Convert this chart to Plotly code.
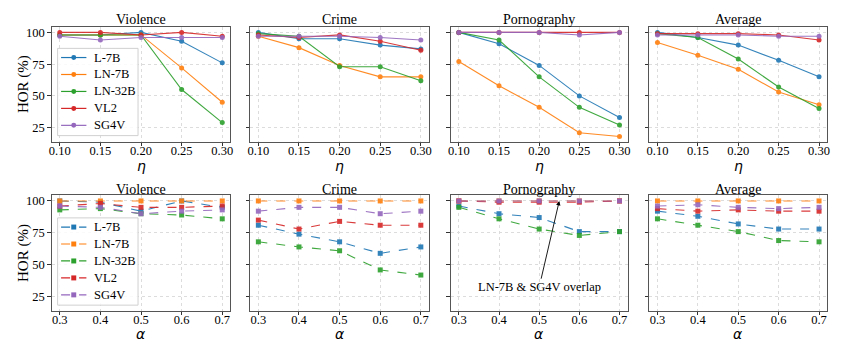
import plotly.graph_objects as go
from plotly.subplots import make_subplots

models = ["L-7B", "LN-7B", "LN-32B", "VL2", "SG4V"]
colors = ["#1f77b4", "#ff7f0e", "#2ca02c", "#d62728", "#9467bd"]
categories = ["Violence", "Crime", "Pornography", "Average"]

eta = [0.10, 0.15, 0.20, 0.25, 0.30]
alpha = [0.3, 0.4, 0.5, 0.6, 0.7]

# HOR (%) vs eta (top row)
eta_violence = {
    "L-7B":   [98, 98, 100, 93, 76],
    "LN-7B":  [98, 98, 98, 72, 45],
    "LN-32B": [98, 98, 98, 55, 29],
    "VL2":    [100, 100, 98, 100, 97],
    "SG4V":   [97, 94, 96, 96, 96],
}
eta_crime = {
    "L-7B":   [100, 95, 95, 90, 87],
    "LN-7B":  [97, 88, 74, 65, 65],
    "LN-32B": [99, 97, 73, 73, 62],
    "VL2":    [98, 96, 98, 93, 86],
    "SG4V":   [97, 97, 97, 96, 94],
}
eta_porn = {
    "L-7B":   [100, 91, 74, 50, 33],
    "LN-7B":  [77, 58, 41, 21, 18],
    "LN-32B": [100, 94, 65, 41, 27],
    "VL2":    [100, 100, 100, 100, 100],
    "SG4V":   [100, 100, 100, 98, 100],
}
eta_average = {
    "L-7B":   [100, 96, 90, 78, 65],
    "LN-7B":  [92, 82, 71, 53, 43],
    "LN-32B": [99, 96, 79, 57, 40],
    "VL2":    [99, 99, 99, 98, 94],
    "SG4V":   [98, 98, 98, 97, 97],
}

# HOR (%) vs alpha (bottom row)
alpha_violence = {
    "L-7B":   [100, 99, 92, 100, 95],
    "LN-7B":  [100, 100, 100, 100, 100],
    "LN-32B": [93, 94, 90, 89, 86],
    "VL2":    [96, 98, 95, 95, 96],
    "SG4V":   [96, 95, 90, 92, 93],
}
alpha_crime = {
    "L-7B":   [81, 74, 68, 59, 64],
    "LN-7B":  [100, 100, 100, 100, 100],
    "LN-32B": [68, 64, 61, 46, 42],
    "VL2":    [85, 78, 84, 81, 81],
    "SG4V":   [92, 95, 95, 90, 92],
}
alpha_porn = {
    "L-7B":   [96, 90, 87, 76, 76],
    "LN-7B":  [100, 100, 100, 100, 100],
    "LN-32B": [95, 86, 78, 73, 76],
    "VL2":    [100, 99, 99, 99, 100],
    "SG4V":   [100, 100, 100, 100, 100],
}
alpha_average = {
    "L-7B":   [92, 88, 82, 78, 78],
    "LN-7B":  [100, 100, 100, 100, 100],
    "LN-32B": [86, 81, 76, 69, 68],
    "VL2":    [94, 92, 93, 92, 92],
    "SG4V":   [96, 97, 95, 94, 95],
}

top_data = [eta_violence, eta_crime, eta_porn, eta_average]
bot_data = [alpha_violence, alpha_crime, alpha_porn, alpha_average]

W, H = 847, 353
serif = "Liberation Serif, Times New Roman, serif"

fig = make_subplots(rows=2, cols=4)

for c in range(4):
    for i, m in enumerate(models):
        fig.add_trace(go.Scatter(
            x=eta, y=top_data[c][m], mode="lines+markers", name=m,
            line=dict(color=colors[i], width=1.1),
            marker=dict(symbol="circle", size=5, color=colors[i]),
            opacity=0.9, showlegend=False,
        ), row=1, col=c + 1)
        fig.add_trace(go.Scatter(
            x=alpha, y=bot_data[c][m], mode="lines+markers", name=m,
            line=dict(color=colors[i], width=1.1, dash="dash"),
            marker=dict(symbol="square", size=5, color=colors[i]),
            opacity=0.9, showlegend=False,
        ), row=2, col=c + 1)

xdoms = [(49, 229), (249, 429), (451, 629), (651, 830)]
top_y = (1 - 141 / H, 1 - 26 / H)
bot_y = (1 - 310.7 / H, 1 - 195 / H)

axis_common = dict(
    showline=True, linecolor="#555", linewidth=1, mirror=True,
    ticks="outside", ticklen=3.5, tickcolor="#333",
    showgrid=True, gridcolor="#dcdcdc", griddash="dot", gridwidth=0.8,
    zeroline=False, tickfont=dict(family=serif, size=12.5, color="black"),
)

for r in range(2):
    for c in range(4):
        idx = r * 4 + c + 1
        xa = "xaxis" if idx == 1 else f"xaxis{idx}"
        ya = "yaxis" if idx == 1 else f"yaxis{idx}"
        dom = [xdoms[c][0] / W, xdoms[c][1] / W]
        if r == 0:
            xr, tv, tf, ydom = [0.09, 0.31], eta, ".2f", top_y
        else:
            xr, tv, tf, ydom = [0.28, 0.72], alpha, ".1f", bot_y
        fig.layout[xa].update(
            domain=dom, range=xr, tickvals=tv, tickformat=tf,
            ticklabelstandoff=-6, **axis_common,
        )
        fig.layout[ya].update(
            domain=list(ydom), range=[14, 104.3], tickvals=[25, 50, 75, 100],
            showticklabels=(c == 0), **axis_common,
        )

# panel titles and axis titles
for r, (ypix, xlab_pix, xlab) in enumerate([(19, 165, "<i>η</i>"), (189, 333.5, "<i>α</i>")]):
    for c in range(4):
        cx = (xdoms[c][0] + xdoms[c][1]) / 2 / W
        fig.add_annotation(
            x=cx, y=1 - ypix / H, xref="paper", yref="paper",
            text=categories[c], showarrow=False,
            font=dict(family=serif, size=14, color="black"),
            xanchor="center", yanchor="middle",
        )
        fig.add_annotation(
            x=cx, y=1 - xlab_pix / H, xref="paper", yref="paper",
            text=xlab, showarrow=False, borderpad=0,
            font=dict(family="DejaVu Sans", size=14, color="black"),
            xanchor="center", yanchor="middle",
        )
    yc = (top_y if r == 0 else bot_y)
    fig.add_annotation(
        x=20 / W, y=(yc[0] + yc[1]) / 2, xref="paper", yref="paper",
        text="HOR (%)", showarrow=False, textangle=-90,
        font=dict(family=serif, size=15, color="black"),
        xanchor="center", yanchor="middle",
    )

# overlap annotation in bottom pornography panel
fig.add_annotation(
    x=0.55, y=100, xref="x7", yref="y7",
    ax=0.5, ay=32.5, axref="x7", ayref="y7",
    text="LN-7B & SG4V overlap", showarrow=True,
    arrowhead=2, arrowsize=1, arrowwidth=0.9, arrowcolor="black",
    font=dict(family=serif, size=12.5, color="black"),
)

# legends (matplotlib-style boxes inside the Violence panels)
def px(x):
    return x / W

def py(y):
    return 1 - y / H

legend_specs = [
    dict(top=47.5, bottom=135, first=56.7, dash="solid", symbol="circle"),
    dict(top=217.5, bottom=305, first=226.7, dash="dash", symbol="square"),
]
shapes = []
for spec in legend_specs:
    shapes.append(dict(
        type="rect", xref="paper", yref="paper",
        x0=px(55), x1=px(136), y0=py(spec["bottom"]), y1=py(spec["top"]),
        line=dict(color="#d0d0d0", width=1), fillcolor="rgba(255,255,255,0.85)",
        layer="above",
    ))
    for i, m in enumerate(models):
        yy = spec["first"] + i * 17
        shapes.append(dict(
            type="line", xref="paper", yref="paper",
            x0=px(58.5), x1=px(84), y0=py(yy), y1=py(yy),
            line=dict(color=colors[i], width=1.2, dash=("dash" if spec["dash"] == "dash" else "solid")),
            layer="above",
        ))
        shapes.append(dict(
            type=("circle" if spec["symbol"] == "circle" else "rect"),
            xref="paper", yref="paper",
            x0=px(71.25 - 2.5), x1=px(71.25 + 2.5), y0=py(yy + 2.5), y1=py(yy - 2.5),
            line=dict(color=colors[i], width=0), fillcolor=colors[i], layer="above",
        ))
        fig.add_annotation(
            x=px(89.5), y=py(yy), xref="paper", yref="paper",
            text=m, showarrow=False, xanchor="left", yanchor="middle",
            font=dict(family=serif, size=12.5, color="black"),
        )

fig.update_layout(
    width=W, height=H,
    margin=dict(l=0, r=0, t=0, b=0),
    paper_bgcolor="white", plot_bgcolor="white",
    font=dict(family=serif, color="black"),
    shapes=shapes, showlegend=False,
)

fig.write_html("out.html")
